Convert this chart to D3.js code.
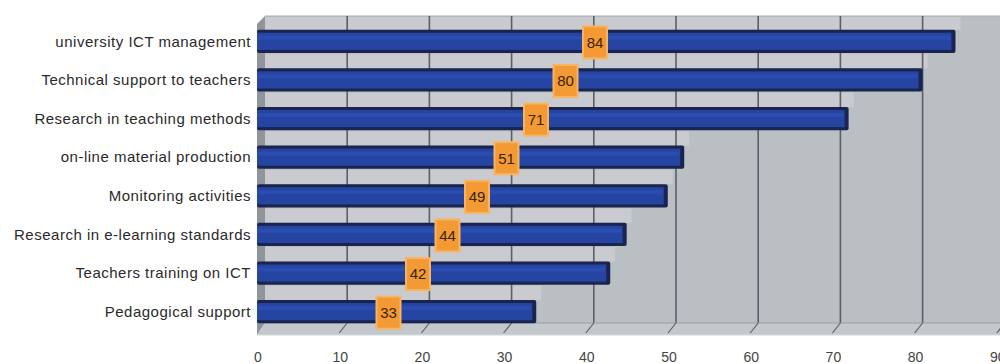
<!DOCTYPE html>
<html>
<head>
<meta charset="utf-8">
<script src="https://cdn.jsdelivr.net/npm/d3@7"></script>
<style>
    body { margin: 0; background: #fff; }
    svg { display: block; font-family: "Liberation Sans", Arial, sans-serif; }
</style>
</head>
<body>
<div id="chart"></div>
<script>
// data
const categories = [
    "university ICT management",
    "Technical support to teachers",
    "Research in teaching methods",
    "on-line material production",
    "Monitoring activities",
    "Research in e-learning standards",
    "Teachers training on ICT",
    "Pedagogical support"
]
const values = [84, 80, 71, 51, 49, 44, 42, 33]
const tickValues = [0, 10, 20, 30, 40, 50, 60, 70, 80, 90]

function drawChart() {
    //---------------- dimensions
    const dims = {
        width: 1000,
        height: 364,
        wallTop: 16,
        wallBottom: 323,
        floorFront: 335
    }

    const svg = d3.select("#chart")
        .append("svg")
        .attr("width", dims.width)
        .attr("height", dims.height)

    //---------------- scales
    // back wall and front face of the 3d box
    const xBack = d3.scaleLinear()
        .domain([0, 90])
        .range([265, 265 + 90 * 8.22])

    const xFront = d3.scaleLinear()
        .domain([0, 90])
        .range([257, 257 + 90 * 8.22])

    const yScale = d3.scaleBand()
        .domain(categories)
        .range([22, 331])
        .paddingInner(0.4)
        .paddingOuter(0.2)

    const step = yScale.step()
    const bh = yScale.bandwidth()

    //---------------- back wall
    svg.append("rect")
        .attr("x", xBack(0))
        .attr("y", dims.wallTop)
        .attr("width", dims.width - xBack(0))
        .attr("height", dims.wallBottom - dims.wallTop)
        .attr("fill", "#b9bfc3")

    svg.append("line")
        .attr("x1", xBack(0)).attr("x2", dims.width)
        .attr("y1", dims.wallTop).attr("y2", dims.wallTop)
        .attr("stroke", "#a9afb4")

    // light top faces of the bars (stripe above each bar)
    svg.append("g")
        .selectAll("rect")
        .data(values)
        .join("rect")
        .attr("x", xBack(0))
        .attr("y", (d, i) => Math.max(dims.wallTop + 1, yScale(categories[i]) - step * 0.4 + 1))
        .attr("width", d => xBack(d) + 5 - xBack(0))
        .attr("height", (d, i) => yScale(categories[i]) - Math.max(dims.wallTop + 1, yScale(categories[i]) - step * 0.4 + 1))
        .attr("fill", "#cbccd2")
        .attr("opacity", 0.9)

    // vertical grid lines on the wall
    svg.append("g")
        .selectAll("line")
        .data(tickValues.slice(1))
        .join("line")
        .attr("x1", d => xBack(d))
        .attr("x2", d => xBack(d))
        .attr("y1", dims.wallTop)
        .attr("y2", dims.wallBottom)
        .attr("stroke", "#5b6066")
        .attr("stroke-width", 1.6)

    // left side wall
    svg.append("polygon")
        .attr("points", [
            [xBack(0), dims.wallTop],
            [xBack(0), dims.wallBottom],
            [xFront(0), dims.floorFront],
            [xFront(0), dims.wallTop + 8]
        ].join(" "))
        .attr("fill", "#8f959b")

    // floor
    svg.append("polygon")
        .attr("points", [
            [xBack(0), dims.wallBottom],
            [dims.width, dims.wallBottom],
            [dims.width, dims.floorFront],
            [xFront(0), dims.floorFront]
        ].join(" "))
        .attr("fill", "#c3c8cc")

    svg.append("line")
        .attr("x1", xBack(0)).attr("x2", dims.width)
        .attr("y1", dims.wallBottom).attr("y2", dims.wallBottom)
        .attr("stroke", "#979da3")

    svg.append("line")
        .attr("x1", xFront(0)).attr("x2", dims.width)
        .attr("y1", dims.floorFront).attr("y2", dims.floorFront)
        .attr("stroke", "#d4d8dc")

    // little slanted ticks on the floor
    svg.append("g")
        .selectAll("line")
        .data(tickValues.slice(1))
        .join("line")
        .attr("x1", d => xBack(d))
        .attr("y1", dims.wallBottom)
        .attr("x2", d => xFront(d))
        .attr("y2", dims.floorFront - 2)
        .attr("stroke", "#5b6066")
        .attr("stroke-width", 1.2)

    //---------------- bars
    const bars = svg.append("g")
        .selectAll("g")
        .data(values)
        .join("g")
        .attr("transform", (d, i) => `translate(0, ${yScale(categories[i])})`)

    // dark outline / body
    bars.append("rect")
        .attr("x", xFront(0))
        .attr("y", 0)
        .attr("width", d => xBack(d) - xFront(0))
        .attr("height", bh)
        .attr("rx", 2)
        .attr("fill", "#19244f")

    bars.append("rect")
        .attr("x", xFront(0))
        .attr("y", 3)
        .attr("width", d => xBack(d) - xFront(0) - 4)
        .attr("height", bh - 6)
        .attr("fill", "#2645a3")

    bars.append("rect")
        .attr("x", xFront(0))
        .attr("y", 6)
        .attr("width", d => xBack(d) - xFront(0) - 5)
        .attr("height", 4)
        .attr("fill", "#2d4fb4")
        .attr("opacity", 0.8)

    //---------------- value labels (stair pattern)
    const labelX = i => 595 - i * 29.5
    const labels = svg.append("g")
        .selectAll("g")
        .data(values)
        .join("g")
        .attr("transform", (d, i) => `translate(${labelX(i)}, ${yScale(categories[i]) + bh / 2 + 1})`)

    labels.append("rect")
        .attr("x", -13)
        .attr("y", -17)
        .attr("width", 26)
        .attr("height", 34)
        .attr("fill", "#f7b463")

    labels.append("rect")
        .attr("x", -11)
        .attr("y", -15)
        .attr("width", 22)
        .attr("height", 30)
        .attr("fill", "#f39a35")

    labels.append("text")
        .attr("text-anchor", "middle")
        .attr("dy", "0.36em")
        .attr("font-size", 15)
        .attr("fill", "#3a2408")
        .text(d => d)

    //---------------- category labels
    svg.append("g")
        .selectAll("text")
        .data(categories)
        .join("text")
        .attr("x", 251)
        .attr("y", d => yScale(d) + bh / 2)
        .attr("dy", "0.35em")
        .attr("text-anchor", "end")
        .attr("font-size", 15)
        .attr("fill", "#2a2a2a")
        .attr("letter-spacing", 0.5)
        .text(d => d)

    //---------------- x axis labels
    svg.append("g")
        .selectAll("text")
        .data(tickValues)
        .join("text")
        .attr("x", d => xFront(d) + 1)
        .attr("y", 357)
        .attr("dy", "0.35em")
        .attr("text-anchor", "middle")
        .attr("font-size", 14)
        .attr("fill", "#444")
        .text(d => d)
}
drawChart()
</script>
</body>
</html>
